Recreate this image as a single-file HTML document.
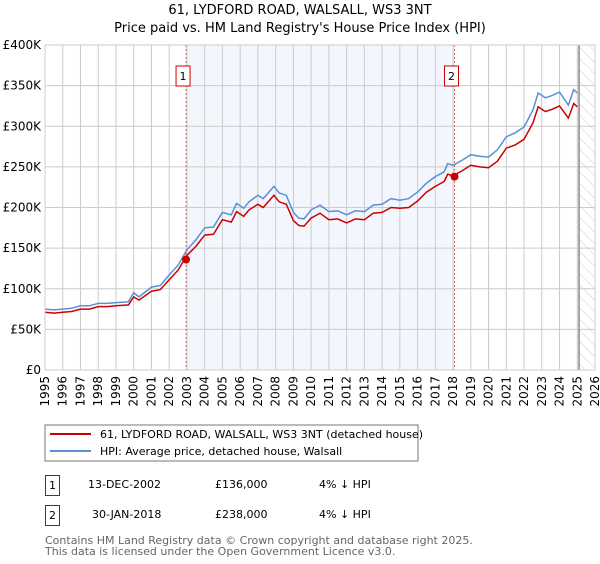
<!DOCTYPE html>
<html><head><meta charset="utf-8"><style>
body{margin:0;background:#fff;font-family:"DejaVu Sans","Liberation Sans",sans-serif;}
svg text{font-family:"DejaVu Sans","Liberation Sans",sans-serif;}
</style></head><body>
<svg id="chart" width="600" height="560" xmlns="http://www.w3.org/2000/svg">
<defs><pattern id="hatch" width="8" height="8" patternUnits="userSpaceOnUse" patternTransform="rotate(-45)"><line x1="0" y1="0" x2="0" y2="8" stroke="#ccc" stroke-width="1"/></pattern></defs>
<text x="300" y="14" text-anchor="middle" font-size="13">61, LYDFORD ROAD, WALSALL, WS3 3NT</text>
<text x="300" y="32" text-anchor="middle" font-size="13">Price paid vs. HM Land Registry's House Price Index (HPI)</text>
<g id="plot"></g>
<rect x="45" y="425" width="373" height="36" fill="#fff" stroke="#777"/>
<line x1="50" y1="434" x2="91" y2="434" stroke="#cc0000" stroke-width="2"/>
<text x="100" y="438" font-size="11">61, LYDFORD ROAD, WALSALL, WS3 3NT (detached house)</text>
<line x1="50" y1="451" x2="91" y2="451" stroke="#5b8fd6" stroke-width="2"/>
<text x="100" y="455" font-size="11">HPI: Average price, detached house, Walsall</text>
<g>
<rect x="45.5" y="475.5" width="14" height="20" fill="none" stroke="#cc0000"/>
<text x="52.5" y="489" text-anchor="middle" font-size="11">1</text>
<text x="88" y="488" font-size="11">13-DEC-2002</text>
<text x="215" y="488" font-size="11">£136,000</text>
<text x="319" y="488" font-size="11">4% ↓ HPI</text></g>
<g>
<rect x="45.5" y="505.5" width="14" height="20" fill="none" stroke="#cc0000"/>
<text x="52.5" y="519" text-anchor="middle" font-size="11">2</text>
<text x="92" y="518" font-size="11">30-JAN-2018</text>
<text x="215" y="518" font-size="11">£238,000</text>
<text x="319" y="518" font-size="11">4% ↓ HPI</text></g>
<text x="45" y="544" font-size="11" fill="#666">Contains HM Land Registry data © Crown copyright and database right 2025.</text>
<text x="45" y="555" font-size="11" fill="#666">This data is licensed under the Open Government Licence v3.0.</text>
</svg>
<script>
const hpiYears=[1995,1995.5,1996,1996.5,1997,1997.5,1998,1998.5,1999,1999.7,2000,2000.3,2001,2001.5,2002,2002.5,2003,2003.5,2004,2004.5,2005,2005.5,2005.8,2006.2,2006.5,2007,2007.3,2007.9,2008.2,2008.6,2009,2009.3,2009.6,2010,2010.5,2011,2011.5,2012,2012.5,2013,2013.5,2014,2014.5,2015,2015.5,2016,2016.5,2017,2017.5,2017.7,2018,2018.5,2019,2019.5,2020,2020.5,2021,2021.5,2022,2022.5,2022.8,2023.2,2023.6,2024,2024.5,2024.8,2025];
const hpiValues=[75,74,75,76,79,79,82,82,83,84,95,90,102,104,117,129,148,160,175,176,194,191,205,199,207,215,211,226,218,215,194,187,186,197,203,195,196,191,196,195,203,204,211,209,211,219,230,238,244,254,252,258,265,263,262,271,287,292,299,320,341,335,338,342,326,345,341];
const priceValues=[71,70,71,72,75,75,78,78,79,80,90,86,97,99,111,123,141,152,166,167,185,182,195,189,197,204,200,215,207,204,184,178,177,187,193,185,186,181,186,185,193,194,200,199,200,208,219,226,232,241,239,245,252,250,249,257,273,277,284,304,324,318,321,325,310,328,324];
const sales=[{t:2002.95,v:136,label:"1"},{t:2018.08,v:238,label:"2"}];
const yTicks=[0,50,100,150,200,250,300,350,400];
const yTickLabels=["£0","£50K","£100K","£150K","£200K","£250K","£300K","£350K","£400K"];
const xTicks=[1995,1996,1997,1998,1999,2000,2001,2002,2003,2004,2005,2006,2007,2008,2009,2010,2011,2012,2013,2014,2015,2016,2017,2018,2019,2020,2021,2022,2023,2024,2025,2026];
const X0=45,X1=595,Y0=370,Y1=45;
const x=t=>X0+(t-1995)/(2026-1995)*(X1-X0);
const y=v=>Y0-v/400*(Y0-Y1);
const NS="http://www.w3.org/2000/svg";
const g=document.getElementById('plot');
function mk(tag,attrs){const e=document.createElementNS(NS,tag);for(const k in attrs)e.setAttribute(k,attrs[k]);g.appendChild(e);return e;}
let e;
e=mk('rect',{x:x(sales[0].t),y:Y1,width:x(sales[1].t)-x(sales[0].t),height:Y0-Y1,fill:'#eef2fc',opacity:0.7});


e=mk('rect',{x:x(2025.1),y:Y1,width:X1-x(2025.1),height:Y0-Y1,fill:'url(#hatch)'});


xTicks.forEach(t=>{e=mk('line',{x1:x(t),y1:Y1,x2:x(t),y2:Y0,stroke:'#ccc','stroke-width':1});


e=mk('text',{transform:`translate(${x(t)+4},${Y0+6}) rotate(-90)`,'text-anchor':'end','font-size':12});e.textContent=t;

});
yTicks.forEach((v,i)=>{e=mk('line',{x1:X0,y1:y(v),x2:X1,y2:y(v),stroke:'#ccc','stroke-width':1});


e=mk('text',{x:X0-4,y:y(v)+4,'text-anchor':'end','font-size':12});e.textContent=yTickLabels[i];

});
e=mk('line',{x1:x(2025.1),y1:Y1,x2:x(2025.1),y2:Y0,stroke:'#888','stroke-width':1.5});


const pts=arr=>arr.map((v,i)=>x(hpiYears[i]).toFixed(1)+','+y(v).toFixed(1)).join(' ');
e=mk('polyline',{points:pts(hpiValues),fill:'none',stroke:'#5b8fd6','stroke-width':1.5});


e=mk('polyline',{points:pts(priceValues),fill:'none',stroke:'#cc0000','stroke-width':1.5});


sales.forEach(s=>{e=mk('line',{x1:x(s.t),y1:Y1,x2:x(s.t),y2:Y0,stroke:'#e06666','stroke-width':1,'stroke-dasharray':'2,2'});


e=mk('circle',{cx:x(s.t),cy:y(s.v),r:4,fill:'#cc0000'});


e=mk('rect',{x:x(s.t)-10,y:66,width:14,height:20,fill:'#fff',stroke:'#cc0000'});


e=mk('text',{x:x(s.t)-3,y:80,'text-anchor':'middle','font-size':11});e.textContent=s.label;

});
e=mk('rect',{x:X0,y:Y1,width:X1-X0,height:Y0-Y1,fill:'none',stroke:'#ccc'});


</script>
</body></html>
